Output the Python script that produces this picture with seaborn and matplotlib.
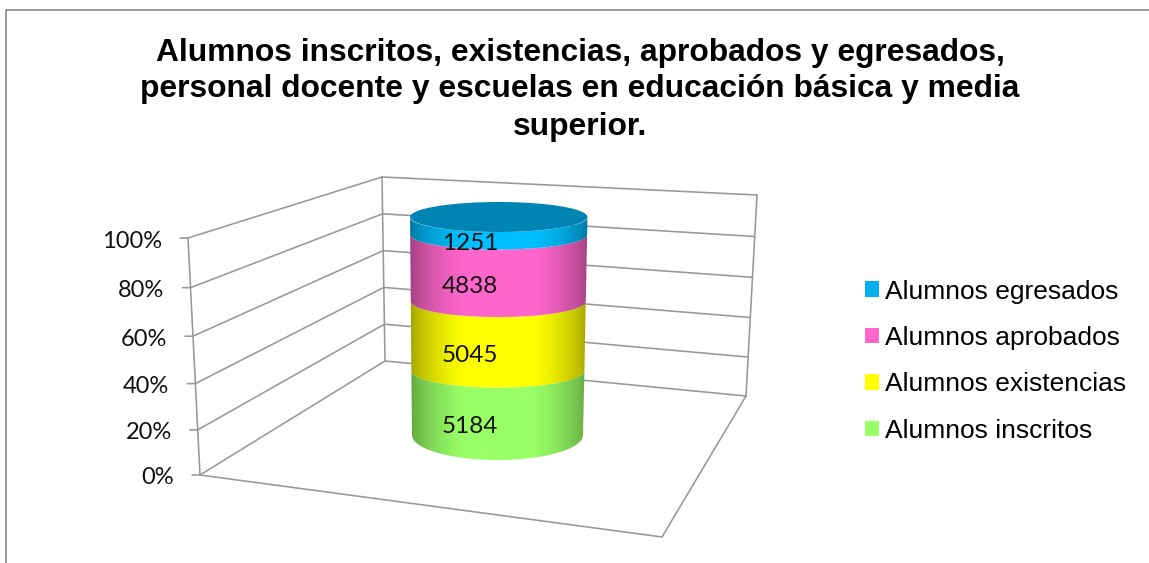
import numpy as np
import pandas as pd
import matplotlib
matplotlib.use("Agg")
import matplotlib.pyplot as plt
import seaborn as sns
from matplotlib.patches import Patch, Polygon

# data, stacking order bottom to top
series = ["Alumnos inscritos", "Alumnos existencias", "Alumnos aprobados", "Alumnos egresados"]
values = [5184, 5045, 4838, 1251]
colors = ["#99FF66", "#FFFF00", "#FF66CC", "#00BFFF"]
legend_colors = ["#99FF66", "#FFFF00", "#FF66CC", "#00B0F0"]
percent_ticks = [0, 20, 40, 60, 80, 100]
title_lines = ["Alumnos inscritos, existencias, aprobados y egresados,",
               "personal docente y escuelas en educación básica y media",
               "superior."]

W, H = 1149, 563
GRID = "#989898"

sns.set_theme(style="white")
plt.rcParams["font.family"] = ["Liberation Sans", "DejaVu Sans"]

fig = plt.figure(figsize=(W / 100, H / 100), dpi=100)
ax = fig.add_axes([0, 0, 1, 1])
ax.set_xlim(0, W)
ax.set_ylim(H, 0)
ax.axis("off")

# outer chart frame, only top and left are inside the crop
ax.plot([6, 6, W], [H, 10, 10], color="#868686", lw=1.2)

for line, y in zip(title_lines, [52.5, 89.5, 126.5]):
    ax.text(580, y, line, ha="center", va="center", fontsize=22.9, fontweight="bold", color="black")


# corners of the 3d box: (x, y) at 0% and at 100%, plus a small perspective bend
def wall(p, bottom, top, bend):
    f = p - bend * p * (1 - p)
    return bottom[0] + (top[0] - bottom[0]) * f, bottom[1] + (top[1] - bottom[1]) * f


front = ((200, 475), (188, 238), 0.06)
back = ((385, 361), (382, 177), 0.0)
right = ((746, 396), (757, 195), 0.04)

for t in percent_ticks:
    p = t / 100
    x0, y0 = wall(p, *front)
    x1, y1 = wall(p, *back)
    x2, y2 = wall(p, *right)
    ax.plot([x0 - 8, x0, x1, x2], [y0, y0, y1, y2], color=GRID, lw=1.15)
    ax.text(x0 - 26, y0 + 3, f"{t}%", ha="right", va="center", fontsize=17, family=["Lato", "DejaVu Sans"], color="#111111")

for corner in (front, back, right):
    xs, ys = zip(*[wall(t / 100, *corner) for t in percent_ticks])
    ax.plot(xs, ys, color=GRID, lw=1.15)

# floor
ax.plot([200, 662, 746], [475, 537, 396], color=GRID, lw=1.15)

# the stacked shares come from seaborn, bars sit on the front line of the cylinder
BOT, TOP = 460, 232
LEFT, RIGHT = 412, 584
ax_bar = fig.add_axes([LEFT / W, 1 - BOT / H, (RIGHT - LEFT) / W, (BOT - TOP) / H])
ax_bar.patch.set_alpha(0)
df = pd.DataFrame({"grupo": ["total"] * len(series), "serie": series, "alumnos": values})
# histplot stacks the last hue at the bottom
sns.histplot(df, x="grupo", hue="serie", hue_order=series[::-1], weights="alumnos", multiple="fill",
             palette=dict(zip(series, colors)), shrink=1, ax=ax_bar, legend=False)
ax_bar.set_xlim(-0.5, 0.5)
ax_bar.set_ylim(0, 1)
ax_bar.axis("off")

bars = sorted(ax_bar.patches, key=lambda b: b.get_y())
grad_x = np.linspace(405, 595, 256)


def front_y(p):
    return BOT + (TOP - BOT) * p


def center_x(p):
    return 497.5 + 1.25 * p


def half_w(p):
    return 85.5 + 3.2 * p


def arc_ry(p):
    return 25 if p == 0 else 18 - 3.5 * p


def arc(p, rev=False):
    t = np.linspace(0, np.pi, 60)
    if rev:
        t = t[::-1]
    ey = front_y(p) - arc_ry(p)
    return np.column_stack([center_x(p) - half_w(p) * np.cos(t), ey + arc_ry(p) * np.sin(t)])


def shaded(color, poly, dark=0.62):
    # horizontal shading, dark rim and bright middle
    u = (grad_x - 410) / 178
    k = dark + (1 - dark) * np.clip(np.sin(np.clip(u, 0, 1) * np.pi) ** 0.7 * 1.15, 0, 1)
    rgb = np.array(matplotlib.colors.to_rgb(color))
    img = (k[:, None] * rgb)[None, :, :]
    im = ax.imshow(img, extent=[405, 595, 470, 190], aspect="auto", zorder=3, interpolation="bilinear")
    im.set_clip_path(Polygon(poly, closed=True, transform=ax.transData))


for bar, color, value in zip(bars, colors, values):
    p0, p1 = bar.get_y(), bar.get_y() + bar.get_height()
    shaded(color, np.vstack([arc(p0), arc(p1, rev=True)]))
    bar.set_visible(False)
    # small nudge down so the digits sit like in the reference
    ax_bar.text(-0.163, (p0 + p1) / 2 - 0.012, str(value), ha="center", va="center",
                fontsize=17.5, family=["Lato", "DejaVu Sans"], color="#111111", zorder=5)

# top face
t = np.linspace(0, 2 * np.pi, 160)
lid = np.column_stack([center_x(1) + half_w(1) * np.cos(t), front_y(1) - 15 + 15 * np.sin(t)])
ax.fill(lid[:, 0], lid[:, 1], color="#0084B4", zorder=4, lw=0)
ax.set_xlim(0, W)
ax.set_ylim(H, 0)

handles = [Patch(facecolor=c, edgecolor="none", label=s) for c, s in zip(legend_colors, series)][::-1]
ax.legend(handles=handles, loc="upper left", bbox_to_anchor=(865 / W, 1 - 279.5 / H), frameon=False,
          fontsize=19, labelcolor="black", handlelength=0.53, handleheight=0.53, handletextpad=0.23,
          labelspacing=0.85, borderpad=0, borderaxespad=0)

fig.savefig("out.png", dpi=100)
